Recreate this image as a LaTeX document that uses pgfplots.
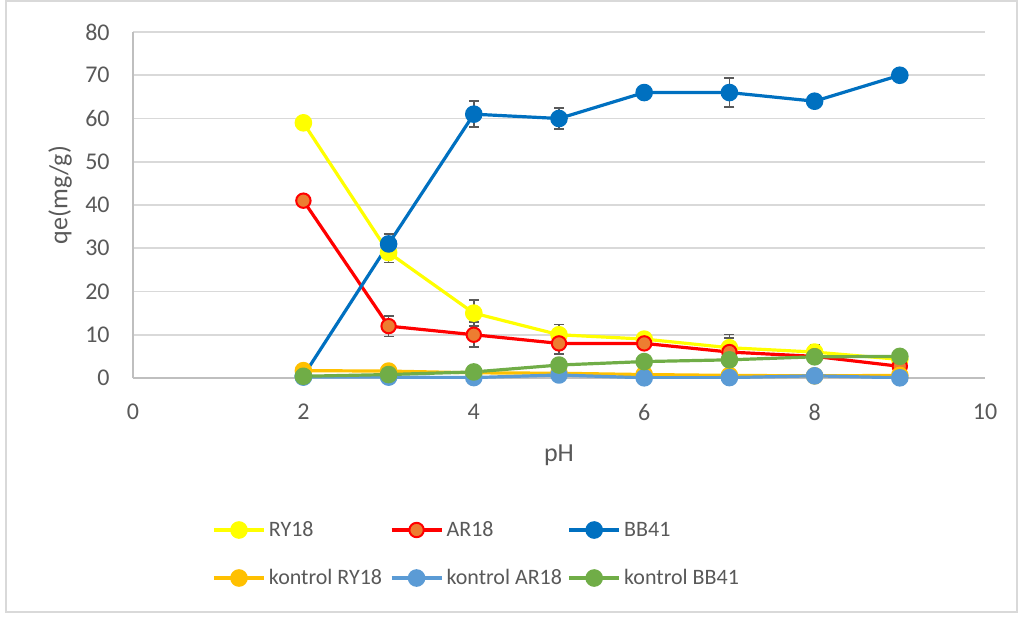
\documentclass[border=0pt]{standalone}
\usepackage{pgfplots}
\pgfplotsset{compat=1.18}
\usepackage{fontspec}
\setmainfont{Carlito}
\definecolor{txt}{HTML}{595959}
\definecolor{gridc}{HTML}{D9D9D9}
\definecolor{axc}{HTML}{BFBFBF}
\definecolor{cRY}{HTML}{FFFF00}
\definecolor{cAR}{HTML}{FF0000}
\definecolor{cARf}{HTML}{ED7D31}
\definecolor{cBB}{HTML}{0070C0}
\definecolor{kRY}{HTML}{FFC000}
\definecolor{kAR}{HTML}{5B9BD5}
\definecolor{kBB}{HTML}{70AD47}
\begin{document}
\begin{tikzpicture}
\useasboundingbox (0pt,0pt) rectangle (509pt,308.5pt);
\draw[gridc,line width=1pt] (3.2pt,2.5pt) rectangle (508.5pt,308pt);
\begin{axis}[
  at={(66.5pt,119.5pt)},anchor=south west,
  scale only axis,width=426pt,height=173pt,
  xmin=0,xmax=10,ymin=0,ymax=80,
  xtick={0,2,...,10},ytick={0,10,...,80},
  axis x line*=bottom,axis y line*=left,
  axis line style={axc,line width=0.8pt,-},
  major tick length=0pt,
  ymajorgrids,
  major grid style={gridc,line width=0.8pt},
  /pgf/number format/assume math mode=true,
  tick label style={text=txt,font=\fontsize{12}{14}\selectfont},
  yticklabel style={inner sep=0pt,anchor=east,xshift=-11.5pt},
  xticklabel style={inner sep=0pt,anchor=center,yshift=-17pt},
  xlabel={pH},ylabel={qe(mg/g)},
  label style={text=txt,font=\fontsize{13}{15}\selectfont},
  xlabel style={at={(axis description cs:0.5,0)},anchor=center,yshift=-38.5pt},
  ylabel style={at={(axis description cs:0,0.5)},anchor=center,yshift=36.5pt,xshift=5pt},
  every axis plot/.append style={line width=1.6pt,line join=round,mark=*,mark size=3.6pt},
  legend columns=3,
  legend style={at={(axis description cs:0.0927,-0.5087)},anchor=west,draw=none,
    inner sep=0pt,row sep=14pt,column sep=0pt,
    font=\fontsize{11}{13}\selectfont,
    nodes={inner sep=0pt,text height=8pt,text depth=2pt,text=txt}},
  legend cell align=left,
  legend image code/.code={
    \path[draw=none,fill=none] (0pt,-4pt) rectangle (27.5pt,4pt);
    \draw[mark repeat=2,mark phase=2] plot coordinates {(0pt,0pt)(12.5pt,0pt)(25pt,0pt)};},
  error bars/error bar style={txt,line width=0.8pt},
  error bars/error mark options={txt,rotate=90,mark size=2.5pt,line width=0.8pt},
]
\addplot[cRY,mark options={fill=cRY,draw=cRY},error bars/.cd,y dir=both,y explicit] coordinates {
  (2,59) +- (0,0) (3,29) +- (0,2.3) (4,15) +- (0,3) (5,10) +- (0,2.4) (6,9) +- (0,0.9)
  (7,7) +- (0,3.1) (8,6) +- (0,1.7) (9,4.3) +- (0,0)};
\addlegendentry{\makebox[60.5pt][l]{RY18}}
\addplot[cAR,mark options={fill=cARf,draw=cAR,line width=1pt},error bars/.cd,y dir=both,y explicit] coordinates {
  (2,41) +- (0,0) (3,12) +- (0,2.4) (4,10) +- (0,2.9) (5,8) +- (0,2.4) (6,8) +- (0,0.5)
  (7,6) +- (0,3.2) (8,5) +- (0,1.5) (9,2.7) +- (0,0)};
\addlegendentry{\makebox[60.5pt][l]{AR18}}
\addplot[cBB,mark options={fill=cBB,draw=cBB},error bars/.cd,y dir=both,y explicit] coordinates {
  (2,0.5) +- (0,0) (3,31) +- (0,2.3) (4,61) +- (0,3) (5,60) +- (0,2.4) (6,66) +- (0,0.5)
  (7,66) +- (0,3.3) (8,64) +- (0,1.2) (9,70) +- (0,0.3)};
\addlegendentry{\makebox[60.5pt][l]{BB41}}
\addplot[kRY,mark options={fill=kRY,draw=kRY}] coordinates {
  (2,1.7) (3,1.6) (4,1.2) (5,1.1) (6,0.8) (7,0.6) (8,0.5) (9,0.6)};
\addlegendentry{\makebox[60.5pt][l]{kontrol RY18}}
\addplot[kAR,mark options={fill=kAR,draw=kAR}] coordinates {
  (2,0.2) (3,0.2) (4,0.1) (5,0.7) (6,0.05) (7,0.1) (8,0.5) (9,0.05)};
\addlegendentry{\makebox[60.5pt][l]{kontrol AR18}}
\addplot[kBB,mark options={fill=kBB,draw=kBB}] coordinates {
  (2,0.4) (3,0.8) (4,1.4) (5,3.0) (6,3.8) (7,4.2) (8,4.9) (9,5.0)};
\addlegendentry{\makebox[60.5pt][l]{kontrol BB41}}
\end{axis}
\end{tikzpicture}
\end{document}
